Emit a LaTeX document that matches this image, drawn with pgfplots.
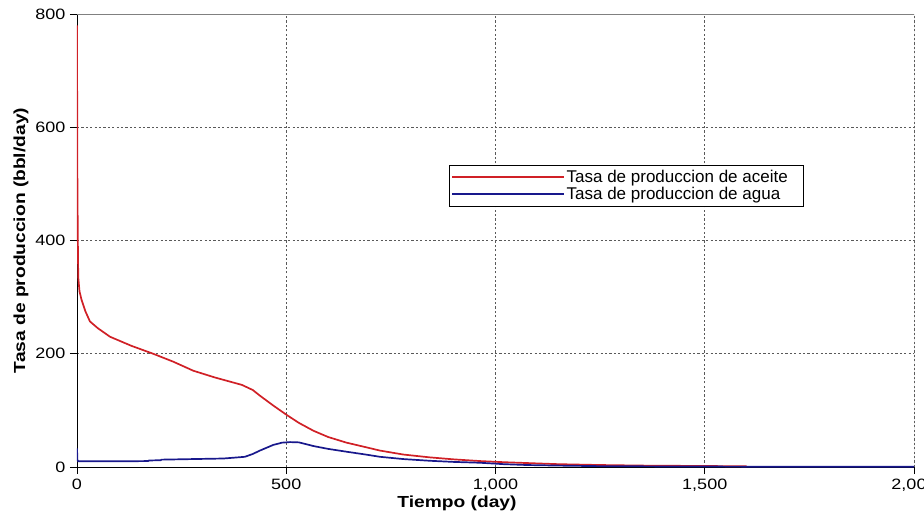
\documentclass[border=0pt]{standalone}
\usepackage{pgfplots}
\pgfplotsset{compat=1.18}
\usepackage{fontspec}
\setmainfont{Liberation Sans}[FakeStretch=1.2]
\newfontfamily\legfont{Liberation Sans}
\definecolor{oilred}{RGB}{208,32,38}
\definecolor{watblue}{RGB}{24,24,140}
\begin{document}
\begin{tikzpicture}
\begin{axis}[
  at={(0pt,0pt)}, anchor=south west,
  scale only axis, width=837pt, height=453pt,
  xmin=0, xmax=2000, ymin=0, ymax=800,
  axis x line*=bottom, axis y line*=left,
  axis line style={black, line width=0.9pt},
  xtick={0,500,1000,1500,2000},
  ytick={0,200,400,600,800},
  tick align=outside,
  major tick length=7pt,
  tick style={black, line width=0.9pt},
  /pgf/number format/assume math mode=true,
  /pgf/number format/1000 sep={,},
  ticklabel style={font=\fontsize{15}{17}\selectfont},
  xticklabel style={yshift=-1pt},
  yticklabel style={xshift=-1pt},
  grid=major,
  major grid style={dash pattern=on 2.2pt off 2.2pt, gray!70!black, line width=0.8pt},
  xlabel={\bfseries Tiempo (day)},
  ylabel={\bfseries Tasa de produccion (bbl/day)},
  label style={font=\fontsize{16}{18}\selectfont},
  xlabel style={at={(ticklabel cs:0.454)}, anchor=north, yshift=2pt},
  ylabel style={at={(ticklabel cs:0.5)}, anchor=south, yshift=0pt},
  legend style={
    at={(rel axis cs:0.4444,0.6667)}, anchor=north west,
    draw=black, fill=white,
    font=\legfont\fontsize{17}{18}\selectfont,
    inner xsep=2pt, inner ysep=3pt,
    row sep=0pt,
    nodes={inner ysep=1.8pt, inner xsep=1.5pt},
  },
  legend cell align=left,
  legend image code/.code={\draw[#1, line width=2pt] (0pt,0pt) -- (112pt,0pt);},
]
\addplot[oilred, line width=1.7pt] coordinates {
(0,780) (0.5,620) (1,500) (2,400) (3,335) (6,310) (11,295) (20,275) (31,257)
(50,245) (79,230) (130,214) (182,200) (230,186) (278,170) (330,158) (394,145)
(420,136) (437,126) (470,108) (501,92) (530,78) (565,64) (600,53) (644,43)
(690,35) (724,29) (780,22) (843,17) (900,13.5) (963,10.5) (1020,8.5) (1075,7)
(1150,5) (1250,3.5) (1350,2.5) (1450,2) (1550,1.5) (1600,1.2)
};
\addlegendentry{Tasa de produccion de aceite\rule{12pt}{0pt}}
\addplot[watblue, line width=1.7pt] coordinates {
(0,33) (1,12) (3,10) (100,10) (170,10.5) (172,11.5) (200,12) (202,13) (350,15)
(401,18) (420,23) (437,29) (469,39) (490,43) (509,44) (530,43.5) (565,37)
(600,32) (644,27) (690,22) (724,18) (780,14) (843,11) (900,9) (963,7.5)
(1020,5) (1075,3.5) (1150,2.5) (1250,1.5) (1400,1) (1600,0.6) (2000,0.3)
};
\addlegendentry{Tasa de produccion de agua}
\draw[gray, line width=0.9pt] (rel axis cs:0,1) -- (rel axis cs:1,1) -- (rel axis cs:1,0);
\end{axis}
\pgfresetboundingbox
\path (-77pt,-56pt) rectangle (847pt,467pt);
\end{tikzpicture}
\end{document}
